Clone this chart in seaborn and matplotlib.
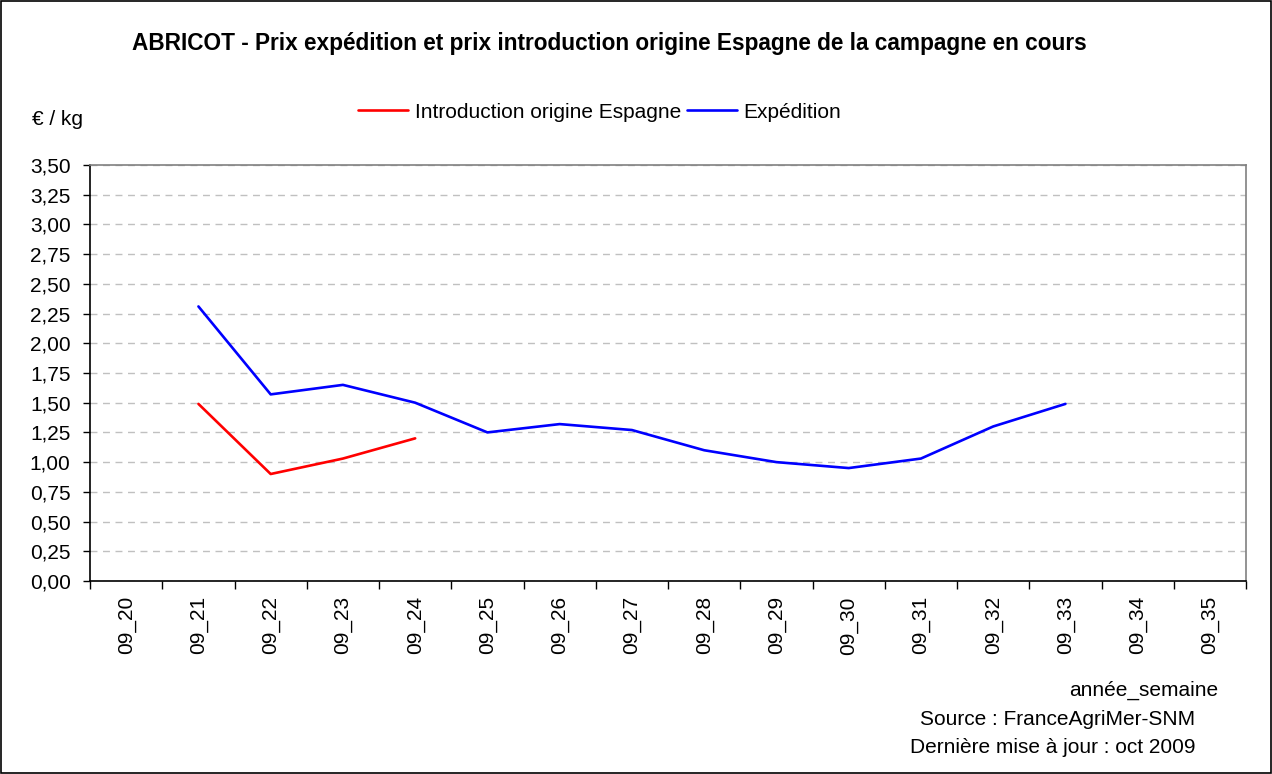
import numpy as np
import pandas as pd
import matplotlib.pyplot as plt
import seaborn as sns
from matplotlib.patches import Rectangle

# Données
semaines = ['09_20', '09_21', '09_22', '09_23', '09_24', '09_25', '09_26', '09_27',
            '09_28', '09_29', '09_30', '09_31', '09_32', '09_33', '09_34', '09_35']
introduction = [np.nan, 1.49, 0.90, 1.03, 1.20, np.nan, np.nan, np.nan,
                np.nan, np.nan, np.nan, np.nan, np.nan, np.nan, np.nan, np.nan]
expedition = [np.nan, 2.31, 1.57, 1.65, 1.50, 1.25, 1.32, 1.27,
              1.10, 1.00, 0.95, 1.03, 1.30, 1.49, np.nan, np.nan]
series = ['Introduction origine Espagne', 'Expédition']

df = pd.DataFrame({
    'pos': list(range(len(semaines))) * 2,
    'prix': introduction + expedition,
    'serie': [series[0]] * len(semaines) + [series[1]] * len(semaines),
})

sns.set_theme(style="white")
plt.rcParams['font.family'] = ['Liberation Sans', 'DejaVu Sans']
plt.rcParams['text.color'] = 'black'
plt.rcParams['xtick.color'] = 'black'
plt.rcParams['ytick.color'] = 'black'
fs = 15

fig = plt.figure(figsize=(12.72, 7.74), dpi=100)
ax = fig.add_axes([0.0708, 0.2494, 0.9088, 0.5374])

sns.lineplot(data=df, x='pos', y='prix', hue='serie', hue_order=series,
             palette={series[0]: '#ff0000', series[1]: '#0000ff'},
             linewidth=1.9, ax=ax, legend=True)

ax.set_xlim(-0.5, len(semaines) - 0.5)
ax.set_ylim(0, 3.5)
yt = np.arange(0, 3.51, 0.25)
ax.set_yticks(yt)
ax.set_yticklabels([f'{v:.2f}'.replace('.', ',') for v in yt], fontsize=fs)
ax.yaxis.grid(True, color='#c0c0c0', linestyle=(0, (5, 4)), linewidth=1)
ax.tick_params(axis='y', which='major', left=True, length=5, width=1, color='black', pad=9)

# graduations aux limites des catégories, libellés au centre
ax.set_xticks(np.arange(-0.5, len(semaines), 1.0))
ax.set_xticklabels([])
ax.tick_params(axis='x', which='major', bottom=True, length=6, width=1, color='black')
ax.set_xticks(np.arange(len(semaines)), minor=True)
ax.set_xticklabels(semaines, minor=True, rotation=90, fontsize=fs)
ax.tick_params(axis='x', which='minor', length=0, pad=11)
ax.set_xlabel('')
ax.set_ylabel('')

for side in ['left', 'bottom']:
    ax.spines[side].set_color('black')
    ax.spines[side].set_linewidth(1.2)
for side in ['top', 'right']:
    ax.spines[side].set_color('#808080')
    ax.spines[side].set_linewidth(1.2)

ax.legend(loc='center left', bbox_to_anchor=(0.267, 0.855), bbox_transform=fig.transFigure,
          ncol=2, frameon=False, fontsize=fs, handlelength=2.4, handletextpad=0.3,
          columnspacing=0.3)

fig.text(0.479, 0.944, 'ABRICOT - Prix expédition et prix introduction origine Espagne de la campagne en cours',
         ha='center', va='center', fontsize=16.3, fontweight='bold')
fig.text(0.025, 0.846, '€ / kg', ha='left', va='center', fontsize=fs)
fig.text(0.9575, 0.108, 'année_semaine', ha='right', va='center', fontsize=fs)
fig.text(0.9395, 0.070, 'Source : FranceAgriMer-SNM', ha='right', va='center', fontsize=fs)
fig.text(0.9395, 0.034, 'Dernière mise à jour : oct 2009', ha='right', va='center', fontsize=fs)

fig.patches.append(Rectangle((0.001, 0.001), 0.998, 0.998, transform=fig.transFigure,
                             fill=False, edgecolor='black', linewidth=1.2))

fig.savefig('out.png', dpi=100, facecolor='white')
